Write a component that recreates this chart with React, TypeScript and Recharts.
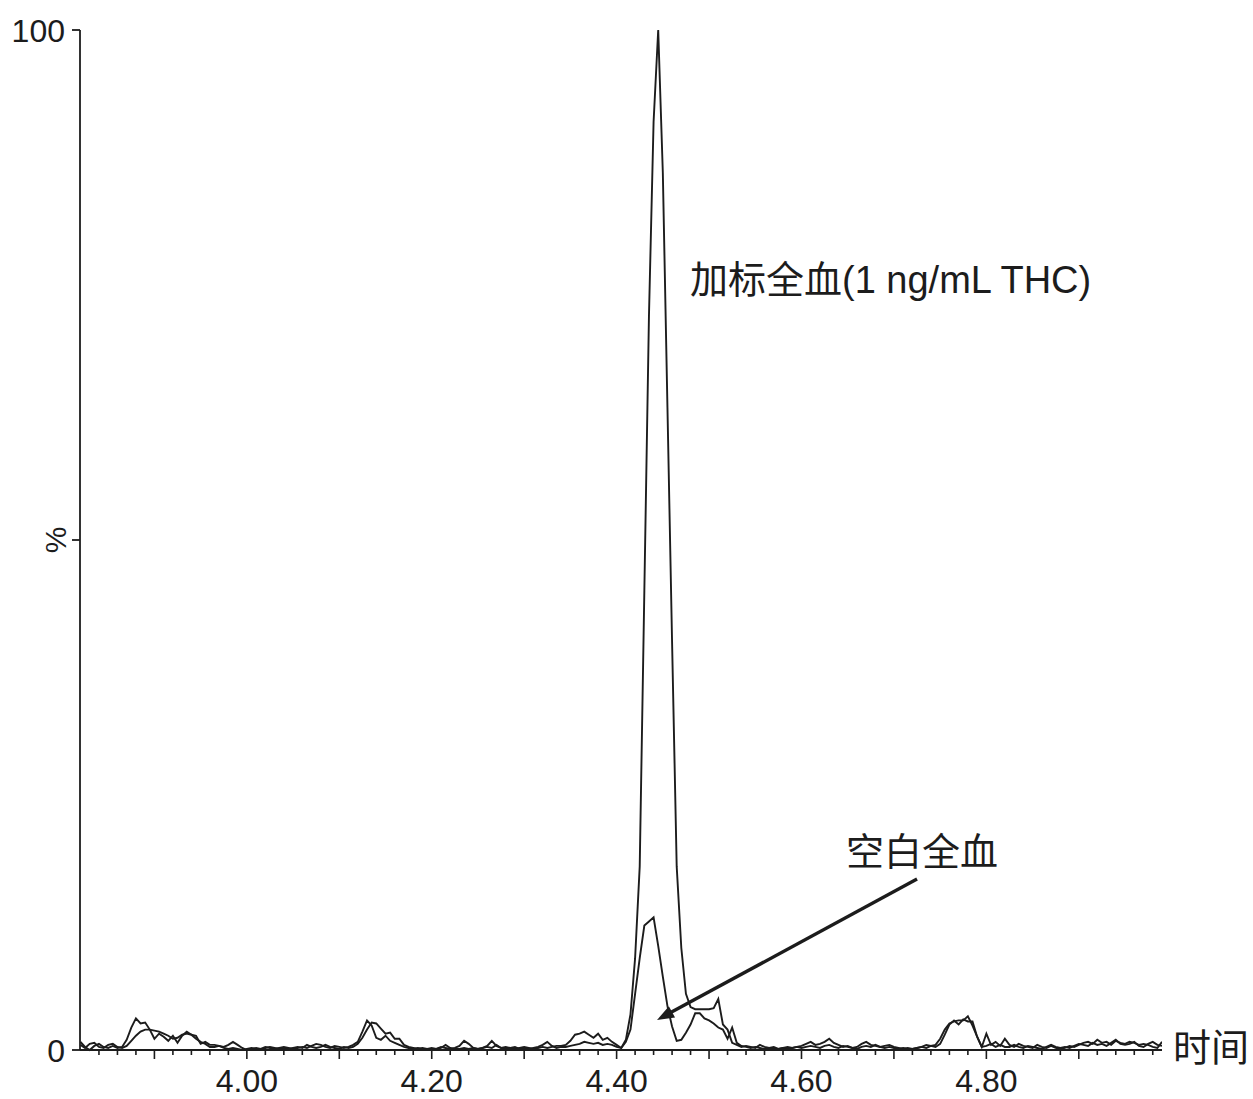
import React from "react";
import { LineChart, Line, XAxis, YAxis, ReferenceLine, ReferenceDot } from "recharts";

// retention-time sampling grid (min)
const RT_START = 3.82;
const RT_STEP = 0.005;

// 加标全血 (1 ng/mL THC) — relative intensity %
const spiked = [
  0.8, 0.3, 0.0, 0.4, 0.6, 0.3, 0.2, 0.4, 0.2, 0.3,
  1.0, 2.2, 3.1, 2.6, 2.7, 2.0, 1.1, 1.6, 1.3, 0.9,
  1.4, 0.7, 1.4, 1.8, 1.5, 1.4, 0.6, 0.8, 0.5, 0.5,
  0.4, 0.3, 0.5, 0.8, 0.5, 0.2, 0.0,
  0.1, 0.2, 0.1, 0.3, 0.2, 0.1, 0.2, 0.3, 0.2, 0.1, 0.2, 0.3, 0.2, 0.4, 0.6, 0.5, 0.3, 0.2, 0.4, 0.3, 0.2, 0.3, 0.5, 0.8,
  1.8, 2.9, 2.4, 1.2, 1.0, 1.4, 0.9, 0.7, 0.5, 0.3, 0.2, 0.1,
  0.2, 0.1, 0.0, 0.1, 0.1, 0.2, 0.5, 0.2, 0.1, 0.1,
  0.2, 0.1, 0.2, 0.1, 0.2, 0.3, 0.2, 0.5, 0.2, 0.1,
  0.2, 0.3, 0.1, 0.2, 0.1, 0.2, 0.3, 0.5, 0.8, 0.4,
  0.2, 0.3, 0.3, 0.4, 0.5, 0.6, 0.8, 0.7, 0.6, 0.7,
  0.5, 0.6, 0.5, 0.3,
  0.2, 1.0, 3.5, 9, 18, 45, 72, 91, 100, 86,
  63, 40, 18, 10, 5.5, 4.2, 4.0, 4.0, 4.0, 4.0,
  4.1, 5.0, 2.5, 2.0, 0.7, 0.5, 0.3, 0.4,
  0.3, 0.2, 0.5, 0.3, 0.2, 0.1, 0.1, 0.2, 0.3, 0.2,
  0.3, 0.4, 0.6, 0.8, 0.5, 0.6, 0.8, 1.1, 0.7, 0.5,
  0.3, 0.4, 0.2, 0.3, 0.6, 0.8, 0.5, 0.4, 0.3, 0.4,
  0.5, 0.3, 0.2, 0.1, 0.2, 0.1, 0.2, 0.3, 0.5, 0.4,
  0.5,
  1.1, 2.0, 2.6, 2.8, 2.9, 2.9, 3.3, 2.4, 1.3, 0.3,
  1.6, 0.5, 0.8, 0.4, 1.1,
  0.5, 0.3, 0.6, 0.4, 0.3, 0.2, 0.5, 0.3, 0.2, 0.4,
  0.2, 0.1, 0.2, 0.4, 0.3, 0.5, 0.7, 0.8, 0.6, 1.0,
  0.7, 0.8, 0.5, 0.9, 0.7, 0.6, 0.8, 0.7, 0.5, 0.6,
  0.5, 0.3, 0.2, 0.8,
];

// 空白全血 — relative intensity %
const blank = [
  0.5, 0.2, 0.6, 0.7, 0.3, 0.2, 0.5, 0.6, 0.3, 0.2,
  0.4, 0.9, 1.4, 1.8, 2.0, 2.0, 1.9, 1.8, 1.6, 1.4,
  1.1, 1.2, 1.5, 1.6, 1.5, 1.1, 0.8, 0.6, 0.3, 0.3,
  0.4, 0.2, 0.1, 0.2, 0.1, 0.0, 0.1,
  0.2, 0.1, 0.0, 0.2, 0.3, 0.2, 0.1, 0.2, 0.1, 0.2, 0.3, 0.2, 0.5, 0.3, 0.2, 0.3, 0.5, 0.3, 0.2, 0.1, 0.3, 0.2, 0.3, 0.6,
  1.2, 2.0, 2.7, 2.6, 2.1, 1.6, 1.7, 1.1, 1.1, 0.5, 0.3, 0.2,
  0.1, 0.2, 0.1, 0.2, 0.1, 0.3, 0.2, 0.1, 0.2, 0.4,
  0.9, 0.6, 0.2, 0.1, 0.2, 0.4, 0.9, 0.4, 0.2, 0.3,
  0.2, 0.1, 0.2, 0.3, 0.2, 0.1, 0.2, 0.3, 0.2, 0.3,
  0.4, 0.4, 0.5, 0.9, 1.5, 1.6, 1.8, 1.5, 1.2, 1.6,
  1.0, 1.2, 0.8, 0.5,
  0.2, 0.8, 2.0, 5.5, 9.0, 12.2, 12.6, 13.0, 10.2, 7.2,
  4.3, 2.3, 0.9, 1.0, 1.7, 2.5, 3.6, 3.6, 3.1, 2.9,
  2.6, 2.2, 2.0, 1.1, 2.2, 0.7, 0.4, 0.3,
  0.2, 0.3, 0.2, 0.1, 0.2, 0.3, 0.1, 0.2, 0.1, 0.2,
  0.3, 0.2, 0.3, 0.4, 0.3, 0.2, 0.4, 0.5, 0.3, 0.2,
  0.4, 0.3, 0.2, 0.1, 0.3, 0.4, 0.3, 0.5, 0.3, 0.2,
  0.3, 0.2, 0.1, 0.2, 0.1, 0.1, 0.2, 0.3, 0.2, 0.4,
  0.3,
  0.6, 1.5, 2.5, 2.9, 2.5, 3.0, 2.8, 2.8, 1.3, 0.3,
  0.4, 0.6, 0.3, 0.5, 0.3,
  0.3, 0.5, 0.3, 0.2, 0.4, 0.3, 0.2, 0.1, 0.3, 0.5,
  0.3, 0.2, 0.3, 0.2, 0.4, 0.6, 0.5, 0.4, 0.7, 0.5,
  0.6, 0.4, 0.7, 1.0, 0.6, 0.5, 0.6, 0.8, 0.4, 0.3,
  0.6, 0.8, 0.5, 0.4,
];

const yTickValues = [0, 50, 100];
const xMinorStart = 3.84;
const xMinorStep = 0.02;
const xMinorCount = 58;
const xTickValues = Array.from({ length: xMinorCount }, (_, k) =>
  Math.round((xMinorStart + xMinorStep * k) * 100) / 100
);

const spikedLabel = "加标全血(1 ng/mL THC)";
const blankLabel = "空白全血";
const xAxisLabel = "时间";
const yAxisLabel = "%";

const rows = spiked.map((v, i) => ({
  t: Math.round((RT_START + i * RT_STEP) * 1000) / 1000,
  spiked: v,
  blank: blank[i],
}));

const INK = "#1c1c1c";
const LATIN = "'Liberation Sans', Arial, 'Noto Sans CJK SC', sans-serif";

function XTick(props: any) {
  const { x, y, payload } = props;
  const v = payload.value as number;
  const c = Math.round(v * 100);
  const long = c % 10 === 0;
  const label = c % 20 === 0;
  return (
    <g>
      <line x1={x} x2={x} y1={y} y2={y + (long ? 9 : 5)} stroke={INK} strokeWidth={1.6} />
      {label && (
        <text x={x} y={y + 42} textAnchor="middle" fontSize={32} fontFamily={LATIN} fill={INK}>
          {v.toFixed(2)}
        </text>
      )}
    </g>
  );
}

function YTick(props: any) {
  const { x, y, payload } = props;
  const v = payload.value as number;
  return (
    <g>
      <line x1={x - 8} x2={x} y1={y} y2={y} stroke={INK} strokeWidth={1.8} />
      {v === 50 ? (
        <text
          x={x - 25}
          y={y}
          textAnchor="middle"
          dominantBaseline="central"
          fontSize={30}
          fontFamily={LATIN}
          fill={INK}
          transform={`rotate(-90, ${x - 25}, ${y})`}
        >
          {yAxisLabel}
        </text>
      ) : (
        <text x={x - 15} y={y + 11.5} textAnchor="end" fontSize={32} fontFamily={LATIN} fill={INK}>
          {v}
        </text>
      )}
    </g>
  );
}

function ArrowShape(props: any) {
  const { x1, y1, x2, y2 } = props;
  const dx = x2 - x1;
  const dy = y2 - y1;
  const len = Math.sqrt(dx * dx + dy * dy) || 1;
  const ux = dx / len;
  const uy = dy / len;
  const headLen = 17;
  const headHalf = 6.5;
  const bx = x2 - ux * headLen;
  const by = y2 - uy * headLen;
  const px = -uy;
  const py = ux;
  return (
    <g>
      <line x1={x1} y1={y1} x2={bx + ux * 2} y2={by + uy * 2} stroke={INK} strokeWidth={3.4} />
      <polygon
        points={`${x2},${y2} ${bx + px * headHalf},${by + py * headHalf} ${bx - px * headHalf},${by - py * headHalf}`}
        fill={INK}
      />
    </g>
  );
}

function makeTextShape(text: string) {
  return (p: any) => (
    <text x={p.cx} y={p.cy} textAnchor="start" fontSize={38} fontFamily={LATIN} fill={INK}>
      {text}
    </text>
  );
}

export default function App() {
  return (
    <div style={{ position: "absolute", left: 0, top: 0, width: 1253, height: 1099, background: "#fff" }}>
      <LineChart
        width={1253}
        height={1099}
        data={rows}
        margin={{ top: 30, right: 91, bottom: 0, left: 0 }}
      >
        <XAxis
          dataKey="t"
          type="number"
          domain={[3.8195, 4.99]}
          allowDataOverflow
          ticks={xTickValues}
          interval={0}
          tick={<XTick />}
          tickLine={false}
          tickSize={0}
          tickMargin={0}
          height={49}
          axisLine={{ stroke: INK, strokeWidth: 1.8 }}
          label={{
            content: (p: any) => (
              <text
                x={p.viewBox.x + p.viewBox.width + 11}
                y={p.viewBox.y + 11}
                fontSize={38}
                fontFamily={LATIN}
                fill={INK}
              >
                {xAxisLabel}
              </text>
            ),
          }}
        />
        <YAxis
          type="number"
          domain={[0, 100]}
          ticks={yTickValues}
          interval={0}
          tick={<YTick />}
          tickLine={false}
          tickSize={0}
          tickMargin={0}
          width={80}
          axisLine={{ stroke: INK, strokeWidth: 1.8 }}
        />
        <Line
          type="linear"
          dataKey="blank"
          stroke={INK}
          strokeWidth={1.9}
          dot={false}
          isAnimationActive={false}
        />
        <Line
          type="linear"
          dataKey="spiked"
          stroke={INK}
          strokeWidth={1.9}
          dot={false}
          isAnimationActive={false}
        />
        <ReferenceLine
          segment={[
            { x: 4.725, y: 16.76 },
            { x: 4.4437, y: 2.94 },
          ]}
          shape={ArrowShape}
        />
        <ReferenceDot x={4.4794} y={74.22} r={0} shape={makeTextShape(spikedLabel)} />
        <ReferenceDot x={4.6482} y={18.14} r={0} shape={makeTextShape(blankLabel)} />
      </LineChart>
    </div>
  );
}
